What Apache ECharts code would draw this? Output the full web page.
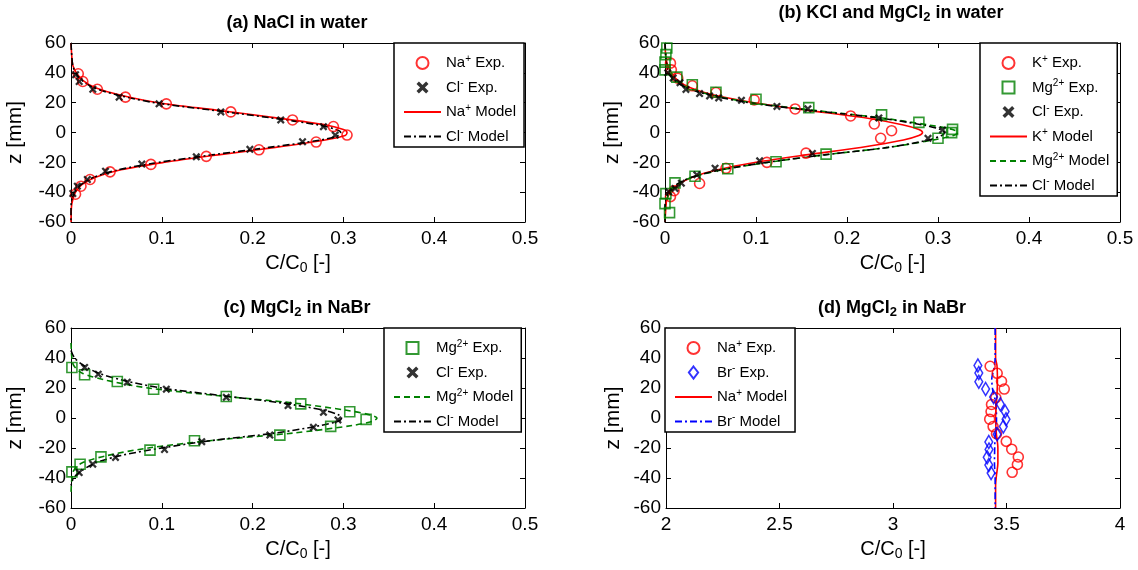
<!DOCTYPE html>
<html>
<head>
<meta charset="utf-8">
<script src="https://cdn.jsdelivr.net/npm/echarts@6/dist/echarts.min.js"></script>
<style>
html, body { margin: 0; padding: 0; background: #fff; }
#chart { width: 1138px; height: 570px; }
</style>
</head>
<body>
<div id="chart"></div>
<script>
// values: [C/C0, z in mm]
// (a) NaCl in water
const aNaExp = [[0.008,39.4],[0.013,34.2],[0.029,29.0],[0.060,23.7],[0.105,19.2],[0.176,13.8],[0.244,8.4],[0.289,4.0],[0.304,-1.7],[0.270,-6.4],[0.207,-11.6],[0.149,-16.0],[0.088,-21.4],[0.043,-26.4],[0.021,-31.5],[0.011,-36.0],[0.005,-41.4]]
const aClExp = [[0.005,38.7],[0.009,34.2],[0.024,29.0],[0.053,23.7],[0.097,19.2],[0.165,13.8],[0.231,8.4],[0.278,3.9],[0.291,-1.7],[0.255,-6.2],[0.197,-11.3],[0.138,-16.3],[0.078,-21.2],[0.038,-25.9],[0.018,-31.5],[0.007,-36.0],[0.002,-40.9]]
const aNaModel = [[0,60],[0.001,50],[0.002,45],[0.006,40],[0.013,35],[0.027,30],[0.055,25],[0.096,20],[0.16,15],[0.224,10],[0.281,5],[0.3,2],[0.304,0],[0.302,-2],[0.28,-5],[0.225,-10],[0.162,-15],[0.103,-20],[0.055,-25],[0.027,-30],[0.012,-35],[0.005,-40],[0.002,-45],[0.0005,-50],[0,-60]]
const aClModel = [[0,60],[0.001,50],[0.002,45],[0.005,40],[0.012,35],[0.025,30],[0.052,25],[0.092,20],[0.155,15],[0.218,10],[0.273,5],[0.292,2],[0.297,0],[0.295,-2],[0.275,-5],[0.218,-10],[0.155,-15],[0.097,-20],[0.052,-25],[0.025,-30],[0.011,-35],[0.004,-40],[0.001,-45],[0,-50],[0,-60]]

// (b) KCl and MgCl2 in water
const bKExp = [[0.006,46.5],[0.007,42.0],[0.014,36.4],[0.030,31.3],[0.056,26.8],[0.098,21.9],[0.143,15.8],[0.204,11.1],[0.230,5.7],[0.249,1.2],[0.237,-3.9],[0.155,-13.8],[0.112,-20.0],[0.067,-24.0],[0.038,-34.2],[0.010,-39.0],[0.006,-43.0]]
const bMgExp = [[0.002,56.6],[0.001,52.2],[0.0,47.2],[0.0,42.0],[0.013,37.1],[0.030,32.0],[0.056,27.0],[0.100,22.3],[0.158,16.7],[0.238,11.8],[0.279,6.8],[0.316,2.1],[0.315,-0.1],[0.300,-3.9],[0.177,-14.5],[0.122,-19.6],[0.069,-24.3],[0.033,-29.3],[0.011,-33.8],[0.001,-41.0],[0.0,-47.7],[0.005,-53.7]]
const bClExp = [[0.003,40.0],[0.009,36.5],[0.0165,33.4],[0.023,28.9],[0.038,26.1],[0.049,24.5],[0.059,23.2],[0.084,21.6],[0.123,17.5],[0.157,15.9],[0.235,9.8],[0.305,1.7],[0.289,-3.9],[0.162,-14.0],[0.104,-19.0],[0.055,-23.9],[0.035,-28.4],[0.018,-34.0],[0.011,-37.5],[0.004,-39.8]]
const bKModel = [[0,60],[0.001,50],[0.003,45],[0.007,40],[0.014,35],[0.028,30],[0.055,25],[0.098,20],[0.155,15],[0.218,10],[0.262,5],[0.279,2],[0.283,0],[0.279,-2],[0.262,-5],[0.215,-10],[0.155,-15],[0.1,-20],[0.058,-25],[0.03,-30],[0.014,-35],[0.006,-40],[0.002,-45],[0.001,-50],[0,-60]]
const bMgModel = [[0,60],[0.001,50],[0.002,45],[0.005,40],[0.011,35],[0.025,30],[0.052,25],[0.095,20],[0.162,15],[0.235,10],[0.29,5],[0.316,2],[0.322,0],[0.317,-2],[0.295,-5],[0.245,-10],[0.175,-15],[0.114,-20],[0.063,-25],[0.03,-30],[0.013,-35],[0.005,-40],[0.002,-45],[0,-50],[0,-60]]
const bClModel = [[0,60],[0.001,50],[0.002,45],[0.004,40],[0.01,35],[0.024,30],[0.05,25],[0.092,20],[0.158,15],[0.232,10],[0.284,5],[0.303,2],[0.307,0],[0.304,-2],[0.29,-5],[0.245,-10],[0.175,-15],[0.112,-20],[0.062,-25],[0.029,-30],[0.012,-35],[0.004,-40],[0.001,-45],[0,-50],[0,-60]]

// (c) MgCl2 in NaBr
const cMgExp = [[0.001,33.7],[0.015,28.8],[0.051,24.3],[0.091,19.2],[0.171,14.3],[0.253,9.4],[0.307,4.2],[0.325,-0.9],[0.286,-5.6],[0.230,-11.4],[0.136,-15.2],[0.087,-21.4],[0.033,-25.9],[0.010,-30.8],[0.001,-35.9]]
const cClExp = [[0.015,33.7],[0.030,29.2],[0.062,23.9],[0.105,19.2],[0.171,13.8],[0.239,8.3],[0.278,3.8],[0.294,-1.3],[0.267,-6.2],[0.219,-11.4],[0.144,-15.8],[0.103,-21.0],[0.049,-26.3],[0.024,-30.8],[0.009,-36.4]]
const cMgModel = [[0,50],[0.001,40],[0.003,35],[0.012,30],[0.04,25],[0.085,20],[0.16,15],[0.245,10],[0.305,5],[0.33,2],[0.337,0],[0.333,-2],[0.31,-5],[0.245,-10],[0.155,-15],[0.085,-20],[0.04,-25],[0.012,-30],[0.003,-35],[0.001,-40],[0,-50]]
const cClModel = [[0,45],[0.004,40],[0.014,35],[0.03,30],[0.058,25],[0.1,20],[0.165,15],[0.232,10],[0.28,5],[0.295,2],[0.298,0],[0.295,-2],[0.275,-5],[0.225,-10],[0.155,-15],[0.1,-20],[0.055,-25],[0.027,-30],[0.012,-35],[0.003,-40],[0,-45]]

// (d) MgCl2 in NaBr
const dNaExp = [[3.428,34.5],[3.459,29.8],[3.478,24.5],[3.490,19.3],[3.453,13.5],[3.434,9.0],[3.432,4.3],[3.426,-0.8],[3.441,-5.7],[3.456,-10.5],[3.499,-15.6],[3.523,-20.8],[3.552,-26.0],[3.548,-31.0],[3.525,-36.2]]
const dBrExp = [[3.374,35.0],[3.378,30.0],[3.378,24.2],[3.408,19.3],[3.443,14.0],[3.473,9.2],[3.494,4.3],[3.498,-0.8],[3.486,-5.7],[3.459,-10.9],[3.422,-16.0],[3.423,-21.0],[3.415,-26.2],[3.422,-31.3],[3.432,-36.7]]
const dNaModel = [[3.452,60],[3.452,40],[3.458,35],[3.46,25],[3.458,15],[3.453,5],[3.452,0],[3.455,-10],[3.462,-20],[3.462,-30],[3.456,-38],[3.452,-45],[3.452,-60]]
const dBrModel = [[3.45,60],[3.45,40],[3.445,33],[3.435,26],[3.44,18],[3.45,12],[3.455,5],[3.456,0],[3.455,-5],[3.45,-12],[3.448,-20],[3.447,-30],[3.45,-40],[3.45,-60]]

const titles = ['(a) NaCl in water', '(b) KCl and MgCl|2| in water', '(c) MgCl|2| in NaBr', '(d) MgCl|2| in NaBr']

const font = 'Liberation Sans, Arial, sans-serif'
const red = '#ff0000', green = '#008000', blue = '#0000ff', black = '#000000'
const xMark = 'path://M0,2L2,0L5,3L8,0L10,2L7,5L10,8L8,10L5,7L2,10L0,8L3,5Z'
const square = 'path://M0,0L10,0L10,10L0,10Z'
const diamond = 'path://M5,0L10,6.5L5,13L0,6.5Z'

// legend labels with superscripts, '^' marks the raised part
const labels = {
    'NaExp': 'Na^+^ Exp.', 'ClExp': 'Cl^-^ Exp.', 'NaModel': 'Na^+^ Model', 'ClModel': 'Cl^-^ Model',
    'KExp': 'K^+^ Exp.', 'MgExp': 'Mg^2+^ Exp.', 'KModel': 'K^+^ Model', 'MgModel': 'Mg^2+^ Model',
    'BrExp': 'Br^-^ Exp.', 'BrModel': 'Br^-^ Model'
}
function legendText(name) {
    let key = name.split(':')[1]
    return labels[key].split('^').map((s, i) => s ? (i % 2 ? '{s|' + s + '}' : '{t|' + s + '}') : '').join('')
}
function subText(str, main, sub) {
    return str.split('|').map((s, i) => s ? (i % 2 ? '{' + sub + '|' + s + '}' : '{' + main + '|' + s + '}') : '').join('')
}

let chart = echarts.init(document.getElementById('chart'))

let grids = [
    { left: 71, top: 43, width: 454, height: 179 },
    { left: 665, top: 43, width: 455, height: 179 },
    { left: 71, top: 328, width: 454, height: 180 },
    { left: 666, top: 328, width: 454, height: 180 }
]
let xRanges = [[0, 0.5, 0.1], [0, 0.5, 0.1], [0, 0.5, 0.1], [2, 4, 0.5]]
let yNameGap = [45, 42, 45, 42]

let xAxis = [], yAxis = []
grids.forEach((g, k) => {
    let r = xRanges[k]
    let tick = { inside: true, length: 5, lineStyle: { color: black } }
    let line = { onZero: false, lineStyle: { color: black, width: 1 } }
    xAxis.push({
        type: 'value', gridIndex: k, min: r[0], max: r[1], interval: r[2], position: 'bottom',
        axisLine: line, axisTick: tick, splitLine: { show: false },
        axisLabel: { color: black, fontSize: 19, fontFamily: font, margin: 7 },
        name: subText('C/C|0| [-]', 'n', 'sub'), nameLocation: 'middle', nameGap: 29,
        nameTextStyle: {
            rich: {
                n: { fontSize: 20, fontFamily: font, color: black, lineHeight: 24 },
                sub: { fontSize: 14, fontFamily: font, color: black, lineHeight: 24, verticalAlign: 'bottom', padding: [10, 0, 0, 0] }
            }
        }
    })
    xAxis.push({
        type: 'value', gridIndex: k, min: r[0], max: r[1], interval: r[2], position: 'top',
        axisLine: line, axisTick: tick, splitLine: { show: false }, axisLabel: { show: false }
    })
    yAxis.push({
        type: 'value', gridIndex: k, min: -60, max: 60, interval: 20, position: 'left',
        axisLine: line, axisTick: tick, splitLine: { show: false },
        axisLabel: { color: black, fontSize: 19, fontFamily: font, margin: 5 },
        name: 'z [mm]', nameLocation: 'middle', nameGap: yNameGap[k],
        nameTextStyle: { fontSize: 21, fontFamily: font, color: black }
    })
    yAxis.push({
        type: 'value', gridIndex: k, min: -60, max: 60, interval: 20, position: 'right',
        axisLine: line, axisTick: tick, splitLine: { show: false }, axisLabel: { show: false }
    })
})

function exp(panel, key, data, shape, color) {
    let s = {
        type: 'scatter', name: panel + ':' + key, xAxisIndex: panel * 2, yAxisIndex: panel * 2,
        data: data, z: 3, silent: true, symbolKeepAspect: true
    }
    if (shape === xMark) {
        s.symbol = xMark
        s.symbolSize = 8
        s.itemStyle = { color: color }
    } else {
        s.symbol = shape
        s.symbolSize = shape === diamond ? [10, 13] : 10
        s.itemStyle = { color: 'rgba(255,255,255,0)', borderColor: color, borderWidth: 1.6 }
    }
    return s
}
function model(panel, key, data, color, dash) {
    return {
        type: 'line', name: panel + ':' + key, xAxisIndex: panel * 2, yAxisIndex: panel * 2,
        data: data, symbol: 'none', smooth: 0.3, z: 2, silent: true,
        itemStyle: { color: 'rgba(0,0,0,0)' },
        lineStyle: { color: color, width: 1.6, type: dash }
    }
}
const dashDot = [7, 3, 2, 3]
const dashed = [6, 4]

let series = [
    exp(0, 'NaExp', aNaExp, 'circle', red),
    exp(0, 'ClExp', aClExp, xMark, black),
    model(0, 'NaModel', aNaModel, red, 'solid'),
    model(0, 'ClModel', aClModel, black, dashDot),

    exp(1, 'KExp', bKExp, 'circle', red),
    exp(1, 'MgExp', bMgExp, square, green),
    exp(1, 'ClExp', bClExp, xMark, black),
    model(1, 'KModel', bKModel, red, 'solid'),
    model(1, 'MgModel', bMgModel, green, dashed),
    model(1, 'ClModel', bClModel, black, dashDot),

    exp(2, 'MgExp', cMgExp, square, green),
    exp(2, 'ClExp', cClExp, xMark, black),
    model(2, 'MgModel', cMgModel, green, dashed),
    model(2, 'ClModel', cClModel, black, dashDot),

    exp(3, 'NaExp', dNaExp, 'circle', red),
    exp(3, 'BrExp', dBrExp, diamond, blue),
    model(3, 'NaModel', dNaModel, red, 'solid'),
    model(3, 'BrModel', dBrModel, blue, dashDot)
]

let legendPos = [
    { left: 394, top: 43 },
    { left: 980, top: 43 },
    { left: 384, top: 328 },
    { left: 665, top: 328 }
]
let legend = legendPos.map((p, k) => {
    let own = series.filter(s => s.xAxisIndex === k * 2)
    // experiments first, then models, same as in the figure
    let items = own.filter(s => s.type === 'scatter').concat(own.filter(s => s.type === 'line'))
    return {
        left: p.left, top: p.top, orient: 'vertical',
        data: items.map(s => s.type === 'line'
            ? { name: s.name, itemStyle: { opacity: 0 } }
            : { name: s.name, icon: s.symbol }),
        itemWidth: 37, itemHeight: 12, itemGap: 8,
        symbolKeepAspect: true,
        padding: [11, 8, 3, 9],
        borderColor: black, borderWidth: 1.5, backgroundColor: '#fff',
        selectedMode: false,
        formatter: legendText,
        textStyle: {
            rich: {
                t: { fontSize: 15, fontFamily: font, color: black, lineHeight: 18 },
                s: { fontSize: 10, fontFamily: font, color: black, lineHeight: 18, verticalAlign: 'top' }
            }
        }
    }
})

let titlePos = [[297, 12], [891, 2], [297, 297], [892, 297]]
let title = titles.map((t, k) => ({
    text: subText(t, 'b', 'sub'),
    left: titlePos[k][0], top: titlePos[k][1], textAlign: 'center', padding: 0,
    textStyle: {
        rich: {
            b: { fontSize: 18, fontWeight: 'bold', fontFamily: font, color: black, lineHeight: 22 },
            sub: { fontSize: 13, fontWeight: 'bold', fontFamily: font, color: black, lineHeight: 22, verticalAlign: 'bottom', padding: [9, 0, 0, 0] }
        }
    }
}))

option = {
    backgroundColor: '#fff',
    animation: false,
    title: title,
    legend: legend,
    grid: grids,
    xAxis: xAxis,
    yAxis: yAxis,
    series: series
}

chart.setOption(option)
window.addEventListener('resize', function () {
    chart.resize()
})
</script>
</body>
</html>
